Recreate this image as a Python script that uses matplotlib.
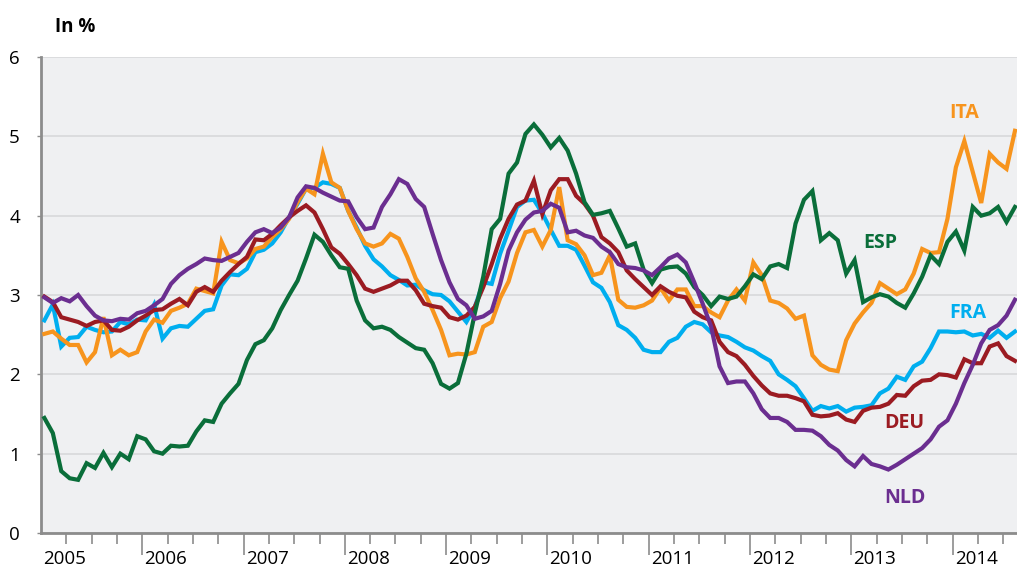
import matplotlib
matplotlib.use("Agg")
import matplotlib.pyplot as plt
import numpy as np

plt.rcParams['font.family'] = ['Open Sans', 'DejaVu Sans']

# Monthly data, Jan 2005 .. Aug 2014 (in %)
esp = [1.45,1.26,0.78,0.69,0.67,0.88,0.82,1.01,0.83,1.00,0.93,1.22,1.18,1.03,1.00,1.10,1.09,1.10,1.28,1.42,
       1.40,1.63,1.76,1.88,2.18,2.38,2.43,2.58,2.81,3.00,3.18,3.46,3.76,3.67,3.50,3.35,3.33,2.93,2.68,2.58,
       2.60,2.56,2.47,2.40,2.33,2.31,2.14,1.88,1.82,1.89,2.26,2.77,3.23,3.83,3.96,4.53,4.67,5.03,5.15,5.02,
       4.86,4.98,4.82,4.53,4.17,4.01,4.03,4.06,3.84,3.61,3.65,3.32,3.15,3.32,3.35,3.36,3.27,3.10,3.00,2.86,
       2.98,2.95,2.98,3.11,3.26,3.20,3.36,3.39,3.34,3.90,4.20,4.31,3.69,3.78,3.69,3.27,3.44,2.91,2.97,3.01,
       2.98,2.90,2.84,3.02,3.23,3.50,3.39,3.67,3.80,3.56,4.11,4.00,4.03,4.11,3.92,4.11]
deu = [2.98,2.91,2.72,2.69,2.66,2.61,2.66,2.68,2.56,2.55,2.60,2.68,2.74,2.81,2.82,2.89,2.95,2.87,3.04,3.10,
       3.04,3.18,3.29,3.39,3.48,3.70,3.69,3.77,3.88,3.98,4.06,4.13,4.04,3.83,3.60,3.52,3.39,3.25,3.08,3.04,
       3.08,3.12,3.18,3.18,3.06,2.89,2.86,2.84,2.72,2.69,2.74,2.85,3.10,3.39,3.71,3.96,4.14,4.19,4.44,4.02,
       4.32,4.46,4.46,4.25,4.15,4.00,3.73,3.65,3.54,3.31,3.20,3.10,3.00,3.11,3.04,2.99,2.97,2.79,2.72,2.68,
       2.41,2.28,2.23,2.12,1.98,1.86,1.76,1.73,1.73,1.70,1.66,1.49,1.47,1.48,1.51,1.43,1.40,1.54,1.58,1.59,
       1.63,1.74,1.73,1.85,1.92,1.93,2.00,1.99,1.96,2.19,2.14,2.14,2.35,2.39,2.23,2.17]
fra = [2.68,2.88,2.35,2.46,2.47,2.60,2.56,2.53,2.54,2.66,2.63,2.69,2.68,2.88,2.45,2.58,2.61,2.60,2.70,2.80,
       2.82,3.12,3.26,3.25,3.33,3.54,3.57,3.65,3.79,3.98,4.15,4.34,4.35,4.42,4.40,4.35,4.06,3.85,3.62,3.45,
       3.36,3.25,3.19,3.12,3.13,3.06,3.01,3.00,2.92,2.79,2.66,2.85,3.16,3.14,3.52,3.81,4.11,4.19,4.20,4.03,
       3.82,3.62,3.62,3.57,3.37,3.16,3.09,2.91,2.62,2.56,2.46,2.31,2.28,2.28,2.41,2.46,2.60,2.66,2.63,2.53,
       2.49,2.47,2.41,2.34,2.30,2.23,2.17,2.00,1.93,1.85,1.70,1.54,1.60,1.57,1.60,1.53,1.58,1.59,1.61,1.76,
       1.82,1.97,1.93,2.10,2.16,2.33,2.54,2.54,2.53,2.54,2.49,2.51,2.46,2.55,2.46,2.54]
ita = [2.51,2.54,2.45,2.37,2.37,2.15,2.28,2.72,2.24,2.31,2.24,2.28,2.54,2.69,2.65,2.80,2.84,2.89,3.08,3.05,
       3.02,3.67,3.44,3.40,3.46,3.58,3.61,3.73,3.83,3.96,4.17,4.34,4.27,4.78,4.42,4.35,4.06,3.83,3.65,3.61,
       3.65,3.77,3.71,3.48,3.21,3.04,2.81,2.56,2.24,2.26,2.25,2.28,2.60,2.66,2.96,3.17,3.53,3.79,3.82,3.61,
       3.82,4.36,3.69,3.64,3.50,3.25,3.28,3.50,2.94,2.85,2.84,2.87,2.93,3.09,2.93,3.07,3.07,2.86,2.86,2.78,
       2.72,2.93,3.07,2.93,3.41,3.25,2.93,2.90,2.83,2.70,2.74,2.24,2.12,2.06,2.04,2.43,2.64,2.78,2.90,3.15,
       3.08,3.01,3.07,3.27,3.58,3.53,3.54,3.96,4.61,4.94,4.55,4.16,4.78,4.67,4.59,5.07]
nld = [2.97,2.90,2.96,2.92,3.00,2.86,2.74,2.68,2.67,2.70,2.69,2.77,2.80,2.87,2.95,3.14,3.25,3.33,3.39,3.46,
       3.44,3.43,3.48,3.53,3.67,3.79,3.83,3.78,3.85,3.98,4.23,4.37,4.35,4.29,4.24,4.19,4.18,3.98,3.83,3.85,
       4.11,4.27,4.46,4.40,4.21,4.11,3.77,3.44,3.16,2.95,2.87,2.70,2.73,2.80,3.14,3.56,3.79,3.95,4.04,4.06,
       4.15,4.10,3.79,3.81,3.75,3.72,3.61,3.54,3.39,3.35,3.34,3.31,3.25,3.35,3.46,3.51,3.41,3.16,2.89,2.60,
       2.10,1.89,1.91,1.91,1.76,1.56,1.45,1.45,1.40,1.30,1.30,1.29,1.22,1.11,1.04,0.92,0.84,0.97,0.87,0.84,
       0.80,0.86,0.93,1.00,1.07,1.18,1.34,1.42,1.63,1.89,2.12,2.39,2.56,2.62,2.74,2.94]

years = ['2005','2006','2007','2008','2009','2010','2011','2012','2013','2014']
y_ticks = [0, 1, 2, 3, 4, 5, 6]

series = [
    ('FRA', fra, '#00aeef'),
    ('ITA', ita, '#f7941d'),
    ('DEU', deu, '#9b1b22'),
    ('ESP', esp, '#0a6e3a'),
    ('NLD', nld, '#6b2e90'),
]
label_pos = {'ITA': (109.4, 5.30), 'ESP': (99.4, 3.66), 'FRA': (109.8, 2.77),
             'DEU': (102.3, 1.39), 'NLD': (102.4, 0.44)}

fig = plt.figure(figsize=(10.17, 5.74), dpi=100)
ax = fig.add_axes([41/1017, 41/574, 976/1017, 476/574])
ax.set_facecolor('#eff0f2')

x = np.arange(len(esp)) + 0.4
for name, vals, col in series:
    ax.plot(x, vals, color=col, lw=3.0, solid_joinstyle='miter', zorder=3)
    lx, ly = label_pos[name]
    ax.text(lx, ly, name, color=col, fontsize=14, fontweight='bold',
            ha='center', va='center', zorder=5)

ax.set_xlim(0, 115.64)
ax.set_ylim(0, 6)
ax.set_yticks(y_ticks)
ax.set_yticklabels([str(v) for v in y_ticks], fontsize=13.5)
ax.yaxis.grid(True, color='#d8d8da', lw=1.2)
ax.set_axisbelow(True)

ax.set_xticks(np.arange(12, 116, 12))
ax.set_xticks(np.arange(3, 116, 3), minor=True)
ax.set_xticklabels([])
ax.tick_params(axis='x', which='major', length=16, width=1.2, color='#8c8c8c', direction='out')
ax.tick_params(axis='x', which='minor', length=8, width=1.2, color='#8c8c8c', direction='out')
ax.tick_params(axis='y', length=3, width=1.0, color='#8c8c8c', pad=16)
for lbl in ax.get_yticklabels():
    lbl.set_horizontalalignment('center')

for i, yr in enumerate(years):
    ax.text(12 * i + 2.8, -0.055, yr, transform=ax.get_xaxis_transform(),
            ha='center', va='center', fontsize=13.5)

for s in ['top', 'right']:
    ax.spines[s].set_visible(False)
for s in ['left', 'bottom']:
    ax.spines[s].set_color('#8c8c8c')
    ax.spines[s].set_linewidth(2)

fig.text(75/1017, 1 - 27/574, 'In %', fontsize=13.5, fontweight='bold',
         ha='center', va='center')

fig.savefig('out.png', dpi=100)
